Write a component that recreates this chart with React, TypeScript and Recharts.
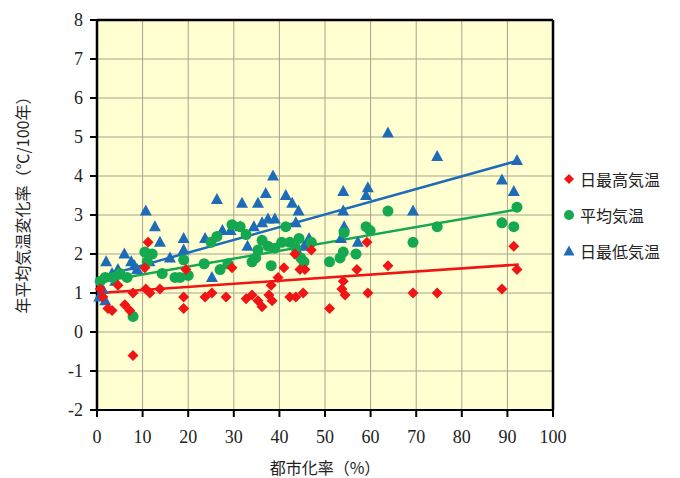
import React from 'react';
import { ScatterChart, Scatter, XAxis, YAxis, CartesianGrid, ReferenceLine } from 'recharts';

const xTicks = [0, 10, 20, 30, 40, 50, 60, 70, 80, 90, 100];
const yTicks = [-2, -1, 0, 1, 2, 3, 4, 5, 6, 7, 8];

const seriesNames = ['日最高気温', '平均気温', '日最低気温'];

const maxTempPoints: [number, number][] = [
  [0.7, 1.1], [1.3, 0.9], [2.4, 0.6], [3.3, 0.55], [4.6, 1.2], [6.1, 0.7], [7.2, 0.55], [7.9, -0.6], [7.9, 1.0],
  [10.5, 1.65], [11.2, 2.3], [10.7, 1.1], [11.6, 1.0], [13.8, 1.1], [19, 0.9], [19, 0.6], [19.5, 1.6], [23.7, 0.9],
  [25.2, 1.0], [28.3, 0.9], [29.6, 1.65], [32.7, 0.85], [34, 0.95], [35.3, 0.8], [36.2, 0.65], [37.7, 0.95],
  [38.4, 0.8], [38.2, 1.2], [39.7, 1.4], [41, 1.65], [42.3, 0.9], [43.6, 0.9], [43.4, 2.0], [44.5, 1.6], [45.2, 1.0],
  [45.6, 1.6], [47, 2.1], [51, 0.6], [53.7, 1.1], [54, 1.3], [54.4, 0.95], [57, 1.6], [59.2, 2.3], [59.4, 1.0],
  [63.8, 1.7], [69.3, 1.0], [74.6, 1.0], [88.8, 1.1], [91.4, 2.2], [92.1, 1.6],
];

const meanTempPoints: [number, number][] = [
  [0.7, 1.3], [1.8, 1.4], [3.5, 1.4], [5, 1.5], [6.6, 1.4], [7.9, 0.4], [10.5, 2.05], [11, 1.8], [12.1, 2.0],
  [14.3, 1.5], [17.1, 1.4], [18.2, 1.4], [19, 1.85], [20, 1.45], [23.5, 1.75], [25, 2.3], [26.3, 2.45], [27, 1.6],
  [28.7, 1.75], [29.6, 2.75], [31.4, 2.7], [32.7, 2.5], [34, 1.8], [34.8, 1.9], [35.3, 2.1], [36.2, 2.35],
  [37.5, 2.2], [38.2, 1.7], [39, 2.15], [40.5, 2.3], [41.4, 2.7], [42.3, 2.3], [43.6, 2.15], [44.3, 2.4],
  [44.7, 1.9], [45.4, 1.8], [47, 2.3], [51, 1.8], [53.3, 1.9], [54, 2.05], [54.2, 2.55], [56.8, 2.0], [59, 2.7],
  [59.9, 2.6], [63.8, 3.1], [69.3, 2.3], [74.6, 2.7], [88.8, 2.8], [91.4, 2.7], [92.1, 3.2],
];

const minTempPoints: [number, number][] = [
  [0.5, 0.9], [1.2, 1.1], [1.8, 0.8], [2.0, 1.8], [3.3, 1.5], [4.0, 1.3], [4.6, 1.6], [6.0, 2.0], [7.5, 1.8],
  [8.2, 1.7], [8.8, 1.6], [10.7, 3.1], [11.5, 1.8], [12.7, 2.7], [13.8, 2.3], [16, 1.9], [19, 2.4], [19, 2.1],
  [23.7, 2.4], [25.2, 1.4], [26.3, 3.4], [27.5, 2.6], [29.3, 2.6], [31.4, 2.7], [31.8, 3.3], [33, 2.2], [34.4, 2.7],
  [35.3, 3.3], [36.2, 2.8], [37, 3.55], [37.5, 2.9], [38.6, 4.0], [39, 2.9], [41.4, 3.5], [42.8, 3.3], [43.6, 2.8],
  [44.2, 3.1], [44.3, 2.0], [45.4, 2.2], [46.5, 2.4], [53.5, 2.4], [54, 3.6], [54, 3.1], [54.2, 2.7], [57.2, 2.3],
  [59.4, 3.7], [59, 3.5], [63.8, 5.1], [69.3, 3.1], [74.6, 4.5], [88.8, 3.9], [91.4, 3.6], [92.1, 4.4],
];

const trendX = [0.5, 92.5];
const maxTrendY = [1.0, 1.73];
const meanTrendY = [1.28, 3.15];
const minTrendY = [1.4, 4.4];

const RED = '#f01414';
const GREEN = '#14a850';
const BLUE = '#1e6cb8';

const toData = (pts: [number, number][]) => pts.map(([x, y]) => ({ x, y }));

const Diamond = (props: any) => {
  const { cx, cy } = props;
  if (cx == null || cy == null) return null;
  const s = 5.5;
  return <path d={`M${cx},${cy - s}L${cx + s},${cy}L${cx},${cy + s}L${cx - s},${cy}Z`} fill={RED} />;
};
const Dot = (props: any) => {
  const { cx, cy } = props;
  if (cx == null || cy == null) return null;
  return <circle cx={cx} cy={cy} r={5.5} fill={GREEN} />;
};
const Tri = (props: any) => {
  const { cx, cy } = props;
  if (cx == null || cy == null) return null;
  return <path d={`M${cx},${cy - 6.5}L${cx + 6},${cy + 4.5}L${cx - 6},${cy + 4.5}Z`} fill={BLUE} />;
};

const serif = "'Liberation Serif', 'Times New Roman', 'DejaVu Serif', serif";
const cjk = "'Noto Sans CJK JP', 'Noto Sans', sans-serif";

const XTick = (props: any) => {
  const { x, y, payload } = props;
  return (
    <g>
      <text x={x} y={y + 24} textAnchor="middle" fontFamily={serif} fontSize={18} fill="#222">
        {String(payload.value)}
      </text>
    </g>
  );
};
const YTick = (props: any) => {
  const { x, y, payload } = props;
  return (
    <g>
      <text x={x - 5} y={y + 6} textAnchor="end" fontFamily={serif} fontSize={18} fill="#222">
        {String(payload.value)}
      </text>
    </g>
  );
};

const LegendBox = () => {
  const markers = [
    <path key="d" d="M6,1L11,6L6,11L1,6Z" fill={RED} />,
    <circle key="c" cx={6} cy={6} r={5} fill={GREEN} />,
    <path key="t" d="M6,0.5L11.5,10.5L0.5,10.5Z" fill={BLUE} />,
  ];
  return (
    <div style={{ position: 'absolute', left: 563, top: 161, fontFamily: cjk, fontSize: 16, color: '#222' }}>
      {seriesNames.map((n, i) => (
        <div key={n} style={{ display: 'flex', alignItems: 'center', height: 36 }}>
          <svg width={12} height={12} style={{ marginRight: 5 }}>{markers[i]}</svg>
          <span>{n}</span>
        </div>
      ))}
    </div>
  );
};

export default function App() {
  return (
    <div style={{ position: 'absolute', left: 0, top: 0, width: 680, height: 478, background: '#fff' }}>
      <ScatterChart width={680} height={478} margin={{ top: 20, right: 127, left: 57, bottom: 28 }}>
        <CartesianGrid stroke="#a4a48c" strokeWidth={1} fill="#ffffd2" />
        <XAxis
          type="number"
          dataKey="x"
          domain={[0, 100]}
          ticks={xTicks}
          interval={0}
          height={40}
          tick={XTick}
          tickSize={7}
          axisLine={{ stroke: '#000', strokeWidth: 2 }}
          tickLine={{ stroke: '#000', strokeWidth: 2 }}
          label={() => (
            <text x={325} y={474} textAnchor="middle" fontFamily={cjk} fontSize={16} fill="#222">
              都市化率（%）
            </text>
          )}
        />
        <YAxis
          type="number"
          dataKey="y"
          domain={[-2, 8]}
          ticks={yTicks}
          interval={0}
          width={40}
          tick={YTick}
          tickSize={7}
          axisLine={{ stroke: '#000', strokeWidth: 2.5 }}
          tickLine={{ stroke: '#000', strokeWidth: 2 }}
          label={() => (
            <text
              x={22}
              y={201}
              textAnchor="middle"
              dominantBaseline="central"
              transform="rotate(-90, 22, 201)"
              fontFamily={cjk}
              fontSize={16}
              fill="#222"
            >
              年平均気温変化率（℃/100年）
            </text>
          )}
        />
        <ReferenceLine y={8} stroke="#000" strokeWidth={2.5} />
        <ReferenceLine x={100} stroke="#000" strokeWidth={2.5} />
        <Scatter name={seriesNames[2]} data={toData(minTempPoints)} shape={Tri} isAnimationActive={false} />
        <Scatter name={seriesNames[1]} data={toData(meanTempPoints)} shape={Dot} isAnimationActive={false} />
        <Scatter name={seriesNames[0]} data={toData(maxTempPoints)} shape={Diamond} isAnimationActive={false} />
        <ReferenceLine
          segment={[{ x: trendX[0], y: maxTrendY[0] }, { x: trendX[1], y: maxTrendY[1] }]}
          stroke={RED}
          strokeWidth={2.5}
        />
        <ReferenceLine
          segment={[{ x: trendX[0], y: meanTrendY[0] }, { x: trendX[1], y: meanTrendY[1] }]}
          stroke={GREEN}
          strokeWidth={2.5}
        />
        <ReferenceLine
          segment={[{ x: trendX[0], y: minTrendY[0] }, { x: trendX[1], y: minTrendY[1] }]}
          stroke={BLUE}
          strokeWidth={2.5}
        />
      </ScatterChart>
      <LegendBox />
    </div>
  );
}
